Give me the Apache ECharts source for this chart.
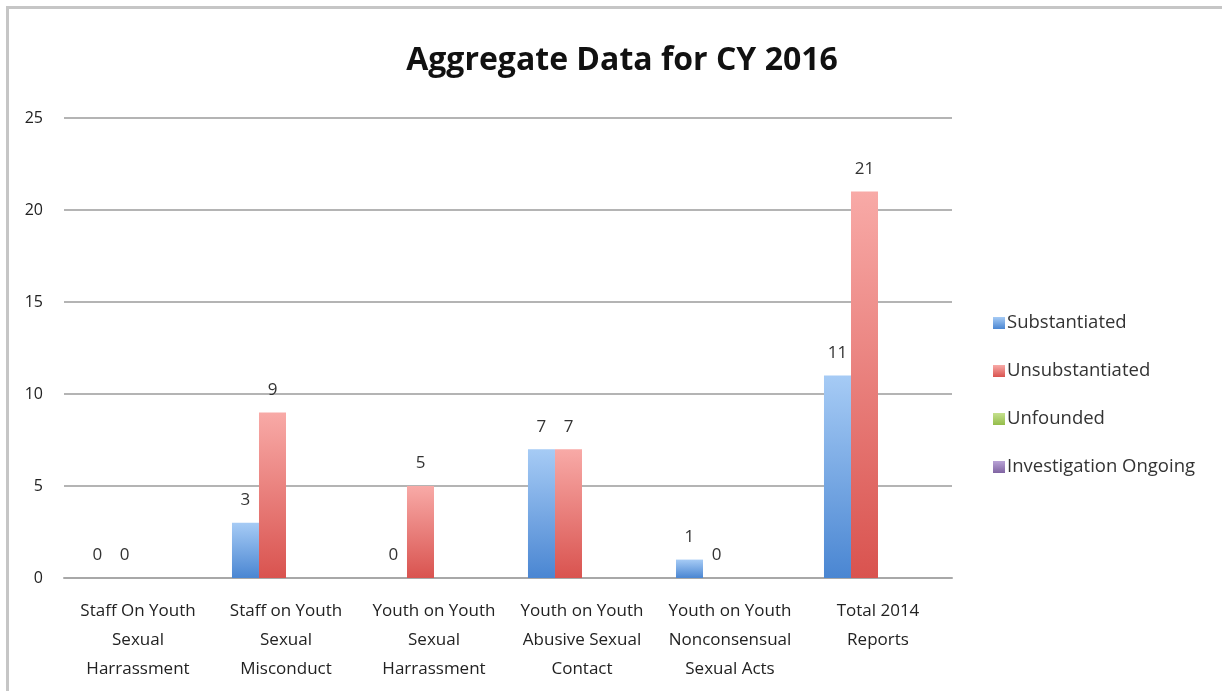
<!DOCTYPE html>
<html>
<head>
<meta charset="utf-8">
<script src="https://cdn.jsdelivr.net/npm/echarts@6/dist/echarts.min.js"></script>
<style>
  html, body { margin: 0; padding: 0; background: #fff; }
  #frame {
    position: absolute; left: 6px; top: 6px; right: 0; bottom: 0;
    border-top: 3px solid #c6c6c6; border-left: 3px solid #c6c6c6;
  }
  #chart { position: absolute; left: 0; top: 0; width: 1222px; height: 691px; }
</style>
</head>
<body>
<div id="frame"></div>
<div id="chart"></div>
<script>
// categories and values
const categories = [
  'Staff On Youth\nSexual\nHarrassment',
  'Staff on Youth\nSexual\nMisconduct',
  'Youth on Youth\nSexual\nHarrassment',
  'Youth on Youth\nAbusive Sexual\nContact',
  'Youth on Youth\nNonconsensual\nSexual Acts',
  'Total 2014\nReports'
];
const substantiated = [0, 3, 0, 7, 1, 11];
const unsubstantiated = [0, 9, 5, 7, 0, 21];
const unfounded = [null, null, null, null, null, null];
const ongoing = [null, null, null, null, null, null];

const font = '"Open Sans", "Noto Sans", sans-serif';

function grad(top, bottom) {
  return new echarts.graphic.LinearGradient(0, 0, 0, 1, [
    { offset: 0, color: top },
    { offset: 1, color: bottom }
  ]);
}

const chart = echarts.init(document.getElementById('chart'));

const label = {
  show: true,
  position: 'top',
  distance: 14,
  color: '#333',
  fontSize: 17,
  fontFamily: font
};

chart.setOption({
  animation: false,
  title: {
    text: 'Aggregate Data for CY 2016',
    left: 617,
    top: 40,
    textAlign: 'center',
    textStyle: { fontFamily: font, fontWeight: 'bold', fontSize: 32, color: '#111' }
  },
  legend: {
    orient: 'vertical',
    left: 988,
    top: 306,
    itemWidth: 12,
    itemHeight: 12,
    itemGap: 24,
    icon: 'rect',
    textStyle: { fontFamily: font, fontSize: 18.5, color: '#333', lineHeight: 24, padding: [0, 0, 0, -3] },
    data: ['Substantiated', 'Unsubstantiated', 'Unfounded', 'Investigation Ongoing']
  },
  grid: { left: 64, right: 270, top: 118, bottom: 113 },
  xAxis: {
    type: 'category',
    data: categories,
    axisTick: { show: false },
    axisLine: { lineStyle: { color: '#a8a8a8', width: 2 } },
    axisLabel: {
      fontFamily: font, fontSize: 17, color: '#222', lineHeight: 29, margin: 19, interval: 0
    }
  },
  yAxis: {
    type: 'value',
    min: 0,
    max: 25,
    interval: 5,
    axisLabel: { fontFamily: font, fontSize: 16, color: '#222', margin: 21 },
    splitLine: { lineStyle: { color: '#b4b4b4', width: 2 } }
  },
  series: [
    {
      name: 'Substantiated', type: 'bar', data: substantiated,
      barGap: 0, barCategoryGap: '27%',
      itemStyle: { color: grad('#a6cbf5', '#4a86d2') },
      label: label
    },
    {
      name: 'Unsubstantiated', type: 'bar', data: unsubstantiated,
      itemStyle: { color: grad('#f8aaa7', '#d9534f') },
      label: label
    },
    {
      name: 'Unfounded', type: 'bar', data: unfounded,
      itemStyle: { color: grad('#c5e08e', '#94bd4a') }
    },
    {
      name: 'Investigation Ongoing', type: 'bar', data: ongoing,
      itemStyle: { color: grad('#b9a3d6', '#8064a2') }
    }
  ]
});
</script>
</body>
</html>
